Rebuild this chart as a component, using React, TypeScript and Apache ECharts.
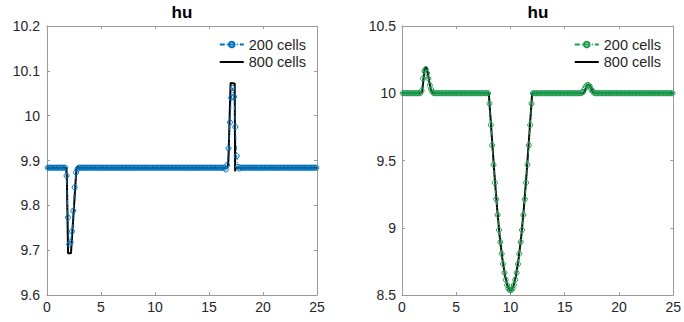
import React, { useEffect, useRef } from "react";
import * as echarts from "echarts";

// ---- data ----
const cells200 = 200;
const domainLength = 25;
// cell centres of the 200-cell grid
const x200: number[] = Array.from({ length: cells200 }, (_, i) => (i + 0.5) * (domainLength / cells200));

const left200: number[] = [
  9.884, 9.884, 9.884, 9.884, 9.884, 9.884, 9.884, 9.884, 9.884, 9.884,
  9.884, 9.884, 9.884, 9.884, 9.866, 9.773, 9.713, 9.718, 9.742, 9.788,
  9.840, 9.873, 9.880, 9.884, 9.884, 9.884, 9.884, 9.884, 9.884, 9.884,
  9.884, 9.884, 9.884, 9.884, 9.884, 9.884, 9.884, 9.884, 9.884, 9.884,
  9.884, 9.884, 9.884, 9.884, 9.884, 9.884, 9.884, 9.884, 9.884, 9.884,
  9.884, 9.884, 9.884, 9.884, 9.884, 9.884, 9.884, 9.884, 9.884, 9.884,
  9.884, 9.884, 9.884, 9.884, 9.884, 9.884, 9.884, 9.884, 9.884, 9.884,
  9.884, 9.884, 9.884, 9.884, 9.884, 9.884, 9.884, 9.884, 9.884, 9.884,
  9.884, 9.884, 9.884, 9.884, 9.884, 9.884, 9.884, 9.884, 9.884, 9.884,
  9.884, 9.884, 9.884, 9.884, 9.884, 9.884, 9.884, 9.884, 9.884, 9.884,
  9.884, 9.884, 9.884, 9.884, 9.884, 9.884, 9.884, 9.884, 9.884, 9.884,
  9.884, 9.884, 9.884, 9.884, 9.884, 9.884, 9.884, 9.884, 9.884, 9.884,
  9.884, 9.884, 9.884, 9.884, 9.884, 9.884, 9.884, 9.884, 9.884, 9.884,
  9.884, 9.884, 9.880, 9.890, 9.927, 9.985, 10.040, 10.062, 10.042, 9.975,
  9.910, 9.886, 9.882, 9.884, 9.884, 9.884, 9.884, 9.884, 9.884, 9.884,
  9.884, 9.884, 9.884, 9.884, 9.884, 9.884, 9.884, 9.884, 9.884, 9.884,
  9.884, 9.884, 9.884, 9.884, 9.884, 9.884, 9.884, 9.884, 9.884, 9.884,
  9.884, 9.884, 9.884, 9.884, 9.884, 9.884, 9.884, 9.884, 9.884, 9.884,
  9.884, 9.884, 9.884, 9.884, 9.884, 9.884, 9.884, 9.884, 9.884, 9.884,
  9.884, 9.884, 9.884, 9.884, 9.884, 9.884, 9.884, 9.884, 9.884, 9.884,
];

const right200: number[] = [
  10, 10, 10, 10, 10, 10, 10, 10, 10, 10,
  10, 10, 10, 10, 10.02, 10.11, 10.165, 10.18, 10.15, 10.11,
  10.06, 10.03, 10.01, 10, 10, 10, 10, 10, 10, 10,
  10, 10, 10, 10, 10, 10, 10, 10, 10, 10,
  10, 10, 10, 10, 10, 10, 10, 10, 10, 10,
  10, 10, 10, 10, 10, 10, 10, 10, 10, 10,
  10, 10, 10, 10, 9.923, 9.764, 9.613, 9.469, 9.335, 9.212,
  9.095, 8.983, 8.894, 8.807, 8.730, 8.666, 8.614, 8.574, 8.547, 8.537,
  8.537, 8.547, 8.574, 8.614, 8.666, 8.730, 8.807, 8.894, 8.983, 9.095,
  9.212, 9.335, 9.469, 9.613, 9.764, 9.923, 10, 10, 10, 10,
  10, 10, 10, 10, 10, 10, 10, 10, 10, 10,
  10, 10, 10, 10, 10, 10, 10, 10, 10, 10,
  10, 10, 10, 10, 10, 10, 10, 10, 10, 10,
  10, 10, 10.002, 10.01, 10.03, 10.05, 10.06, 10.06, 10.05, 10.03,
  10.015, 10.005, 10, 10, 10, 10, 10, 10, 10, 10,
  10, 10, 10, 10, 10, 10, 10, 10, 10, 10,
  10, 10, 10, 10, 10, 10, 10, 10, 10, 10,
  10, 10, 10, 10, 10, 10, 10, 10, 10, 10,
  10, 10, 10, 10, 10, 10, 10, 10, 10, 10,
  10, 10, 10, 10, 10, 10, 10, 10, 10, 10,
];

// 800-cell reference solution (key vertices of the fine line)
const left800X: number[] = [0, 1.80, 1.84, 1.95, 2.22, 2.48, 2.72, 2.80, 2.90, 16.70, 16.80, 17.00, 17.38, 17.42, 17.48, 25];
const left800Y: number[] = [9.884, 9.884, 9.860, 9.693, 9.693, 9.790, 9.880, 9.887, 9.884, 9.884, 9.900, 10.073, 10.072, 9.876, 9.884, 9.884];

const right800X: number[] = [0, 1.75, 1.85, 1.95, 2.05, 2.15, 2.25, 2.35, 2.50, 2.65, 2.80, 2.95, 8.0, 8.25, 8.5, 8.75, 9.0, 9.25, 9.5, 9.75, 10.0, 10.25, 10.5, 10.75, 11.0, 11.25, 11.5, 11.75, 12.0, 16.7, 16.85, 17.0, 17.15, 17.3, 17.45, 17.6, 17.75, 25];
const right800Y: number[] = [10, 10, 10.01, 10.08, 10.16, 10.19, 10.19, 10.16, 10.09, 10.03, 10.005, 10, 10, 9.71, 9.42, 9.16, 8.94, 8.77, 8.64, 8.56, 8.53, 8.56, 8.64, 8.77, 8.94, 9.16, 9.42, 9.71, 10, 10, 10.015, 10.05, 10.065, 10.06, 10.035, 10.01, 10, 10];

const titles: string[] = ["hu", "hu"];
const legendNames: string[] = ["200 cells", "800 cells"];
const leftYRange = { min: 9.6, max: 10.2, interval: 0.1 };
const rightYRange = { min: 8.5, max: 10.5, interval: 0.5 };
const xRange = { min: 0, max: 25, interval: 5 };

const BLUE = "#0072BD";
const GREEN = "#1c9e4f";
const AXIS = "#9a9a9a";
const TEXT = "#262626";
const FONT = "'Liberation Sans', Arial, Helvetica, sans-serif";

function pairs(xs: number[], ys: number[]) {
  return xs.map((x, i) => [x, ys[i]]);
}

export default function App() {
  const ref = useRef<HTMLDivElement>(null);
  useEffect(() => {
    if (!ref.current) return;
    const chart = echarts.init(ref.current, undefined, { renderer: "svg" });

    const grids = [
      { left: 47, top: 26, width: 270, height: 269 },
      { left: 402, top: 26, width: 272, height: 269 },
    ];
    const yRanges = [leftYRange, rightYRange];

    const xAxes: any[] = [];
    const yAxes: any[] = [];
    grids.forEach((_, g) => {
      ["bottom", "top"].forEach((pos) => {
        xAxes.push({
          type: "value",
          gridIndex: g,
          position: pos,
          min: xRange.min,
          max: xRange.max,
          interval: xRange.interval,
          axisLine: { show: true, onZero: false, lineStyle: { color: AXIS, width: 1 } },
          axisTick: { show: true, inside: true, length: 3, lineStyle: { color: AXIS } },
          splitLine: { show: false },
          axisLabel: {
            show: pos === "bottom",
            color: TEXT,
            fontSize: 14,
            fontFamily: FONT,
            margin: 5,
          },
        });
      });
      ["left", "right"].forEach((pos) => {
        yAxes.push({
          type: "value",
          gridIndex: g,
          position: pos,
          min: yRanges[g].min,
          max: yRanges[g].max,
          interval: yRanges[g].interval,
          axisLine: { show: true, onZero: false, lineStyle: { color: AXIS, width: 1 } },
          axisTick: { show: true, inside: true, length: 3, lineStyle: { color: AXIS } },
          splitLine: { show: false },
          axisLabel: {
            show: pos === "left",
            color: TEXT,
            fontSize: 14,
            fontFamily: FONT,
            margin: g === 0 ? 7 : 6,
          },
        });
      });
    });

    const coarse = (name: string, axisG: number, ys: number[], color: string) => ({
      type: "line",
      name,
      xAxisIndex: axisG * 2,
      yAxisIndex: axisG * 2,
      data: pairs(x200, ys),
      symbol: "circle",
      symbolSize: 5,
      showSymbol: true,
      showAllSymbol: true,
      lineStyle: { color, width: 1, type: [5, 2, 1, 2] },
      itemStyle: { color: "rgba(255,255,255,0)", borderColor: color, borderWidth: 1 },
      z: 3,
      silent: true,
    });
    const fine = (name: string, axisG: number, xs: number[], ys: number[]) => ({
      type: "line",
      name,
      xAxisIndex: axisG * 2,
      yAxisIndex: axisG * 2,
      data: pairs(xs, ys),
      symbol: "none",
      lineStyle: { color: "#000", width: 2 },
      itemStyle: { color: "#000" },
      z: 2,
      silent: true,
    });

    const legendBase = {
      orient: "vertical",
      padding: 0,
      itemWidth: 24,
      itemHeight: 7,
      itemGap: 2.5,
      textStyle: { color: TEXT, fontSize: 14.5, fontFamily: FONT },
      formatter: (n: string) => n.split("#")[0],
      selectedMode: false,
    };
    const legendData = (suffix: string) => [
      { name: legendNames[0] + suffix },
      { name: legendNames[1] + suffix, itemStyle: { opacity: 0, borderWidth: 0 } },
    ];

    chart.setOption({
      animation: false,
      backgroundColor: "#fff",
      grid: grids,
      xAxis: xAxes,
      yAxis: yAxes,
      legend: [
        { ...legendBase, right: 378, top: 37, data: legendData("") },
        { ...legendBase, right: 23, top: 37, data: legendData("#r") },
      ],
      graphic: [
        {
          type: "text",
          x: 182,
          y: 12,
          style: { text: titles[0], textAlign: "center", textVerticalAlign: "middle", fontSize: 17, fontWeight: "bold", fontFamily: FONT, fill: "#000" },
        },
        {
          type: "text",
          x: 538,
          y: 12,
          style: { text: titles[1], textAlign: "center", textVerticalAlign: "middle", fontSize: 17, fontWeight: "bold", fontFamily: FONT, fill: "#000" },
        },
      ],
      series: [
        coarse(legendNames[0], 0, left200, BLUE),
        fine(legendNames[1], 0, left800X, left800Y),
        coarse(legendNames[0] + "#r", 1, right200, GREEN),
        fine(legendNames[1] + "#r", 1, right800X, right800Y),
      ],
    });
    return () => chart.dispose();
  }, []);
  return (
    <div
      ref={ref}
      style={{ position: "fixed", left: 0, top: 0, width: 684, height: 322, background: "#fff" }}
    />
  );
}
